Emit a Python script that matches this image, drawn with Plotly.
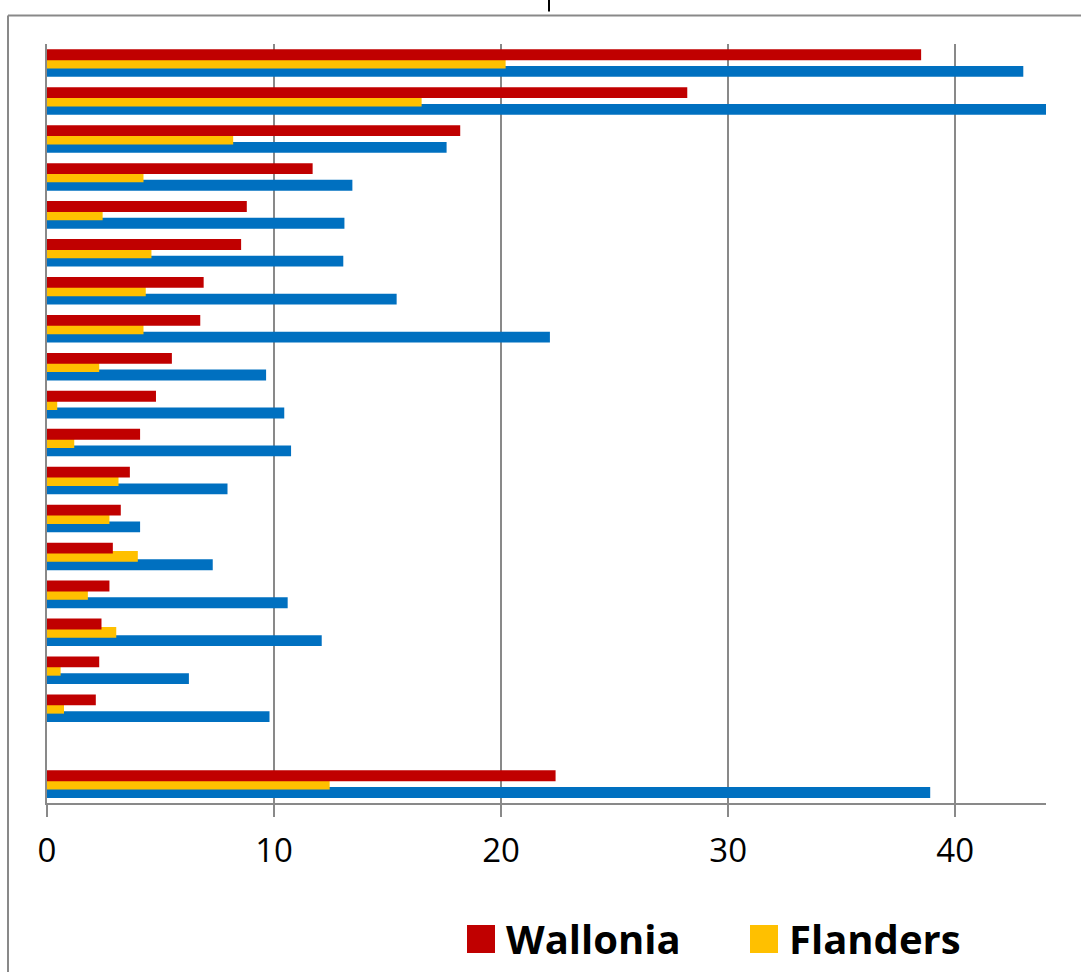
import plotly.graph_objects as go

# rows from top to bottom; " " is the empty spacer row above the total
rows = ["Area 1", "Area 2", "Area 3", "Area 4", "Area 5", "Area 6", "Area 7",
        "Area 8", "Area 9", "Area 10", "Area 11", "Area 12", "Area 13",
        "Area 14", "Area 15", "Area 16", "Area 17", "Area 18", " ", "Total"]

wallonia = [38.5, 28.2, 18.2, 11.7, 8.8, 8.55, 6.9, 6.75, 5.5, 4.8, 4.1,
            3.65, 3.25, 2.9, 2.75, 2.4, 2.3, 2.15, None, 22.4]
flanders = [20.2, 16.5, 8.2, 4.25, 2.45, 4.6, 4.35, 4.25, 2.3, 0.45, 1.2,
            3.15, 2.75, 4.0, 1.8, 3.05, 0.6, 0.75, None, 12.45]
brussels = [43.0, 44.0, 17.6, 13.45, 13.1, 13.05, 15.4, 22.15, 9.65, 10.45,
            10.75, 7.95, 4.1, 7.3, 10.6, 12.1, 6.25, 9.8, None, 38.9]

RED = "#C00000"
YELLOW = "#FFC000"
BLUE = "#0070C0"
GRID = "#898989"

W, H = 1081, 972
L, R, T, B = 47, 1046, 44, 803  # plot area in pixels


def px(x):
    return (x - L) / (R - L)


def py(y):
    return (B - y) / (B - T)


fig = go.Figure()

bar_w = 0.285
# drawn blue first so that yellow and red sit on top
for name, vals, col, off in [("Brussels", brussels, BLUE, 0.08),
                             ("Flanders", flanders, YELLOW, -0.14),
                             ("Wallonia", wallonia, RED, -0.36)]:
    fig.add_trace(go.Bar(
        y=rows, x=vals, orientation="h", name=name,
        marker=dict(color=col, line=dict(width=0)),
        width=bar_w, offset=off, showlegend=False
    ))

shapes = [
    # outer chart frame (runs off the right and bottom edges)
    dict(type="line", xref="paper", yref="paper", x0=px(8), x1=px(1100),
         y0=py(15.5), y1=py(15.5), line=dict(color=GRID, width=2)),
    dict(type="line", xref="paper", yref="paper", x0=px(8), x1=px(8),
         y0=py(15.5), y1=py(990), line=dict(color=GRID, width=2)),
    # small mark at the very top
    dict(type="line", xref="paper", yref="paper", x0=px(549), x1=px(549),
         y0=py(0), y1=py(11.5), line=dict(color="black", width=2)),
    # legend squares
    dict(type="rect", xref="paper", yref="paper", x0=px(467), x1=px(495),
         y0=py(925), y1=py(953), fillcolor=RED, line=dict(width=0)),
    dict(type="rect", xref="paper", yref="paper", x0=px(750), x1=px(778),
         y0=py(925), y1=py(953), fillcolor=YELLOW, line=dict(width=0)),
]

annotations = [
    dict(xref="paper", yref="paper", x=px(504), y=py(938), text="<b>Wallonia</b>",
         xanchor="left", yanchor="middle", showarrow=False,
         font=dict(family="Open Sans", size=40, color="black")),
    dict(xref="paper", yref="paper", x=px(787), y=py(938), text="<b>Flanders</b>",
         xanchor="left", yanchor="middle", showarrow=False,
         font=dict(family="Open Sans", size=40, color="black")),
]

fig.update_layout(
    width=W, height=H,
    margin=dict(l=L, r=W - R, t=T, b=H - B, pad=0),
    paper_bgcolor="white", plot_bgcolor="white",
    barmode="overlay",
    showlegend=False,
    font=dict(family="Open Sans", color="black"),
    xaxis=dict(
        range=[0, 44], tickvals=[0, 10, 20, 30, 40],
        showgrid=True, gridcolor=GRID, gridwidth=2,
        showline=True, linecolor=GRID, linewidth=2,
        ticks="outside", ticklen=12, tickcolor=GRID, tickwidth=2,
        tickfont=dict(size=33, color="black"), zeroline=False,
        ticklabelstandoff=5,
    ),
    yaxis=dict(
        type="category", categoryorder="array", categoryarray=rows,
        autorange="reversed", showticklabels=False, showgrid=False,
        showline=True, linecolor=GRID, linewidth=2, ticks="",
    ),
    shapes=shapes,
    annotations=annotations,
)

# drop the page's default body margin so the figure sits at the top-left corner
fig.write_html("out.html", config={"displayModeBar": False},
               post_script="document.body.style.margin='0';")
